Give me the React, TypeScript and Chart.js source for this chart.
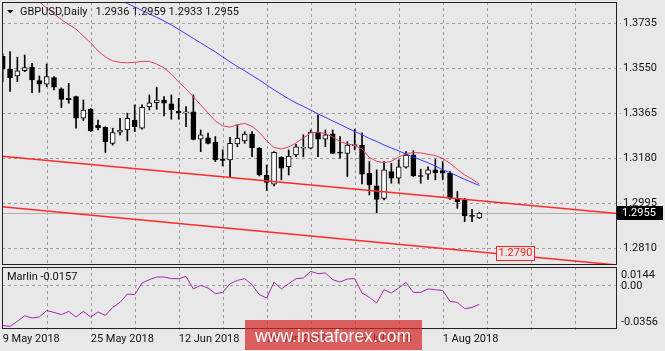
import React, { useEffect, useRef } from "react";
import { Chart, registerables } from "chart.js";

Chart.register(...registerables);

const BG = "#e8e8e8";
const GRID = "#9c9c9c";
const FONT = "Roboto";

// ---- data (daily GBPUSD, 9 May 2018 .. 8 Aug 2018) ----
const opens = [
  1.3600, 1.3547, 1.3519, 1.3541, 1.3555, 1.3500, 1.3485, 1.3512, 1.3466, 1.3428,
  1.3434, 1.3345, 1.3382, 1.3316, 1.3308, 1.3242, 1.3288, 1.3297, 1.3338, 1.3304,
  1.3393, 1.3409, 1.3420, 1.3404, 1.3375, 1.3367, 1.3372, 1.3259, 1.3265, 1.3247,
  1.3176, 1.3174, 1.3240, 1.3252, 1.3280, 1.3222, 1.3112, 1.3074, 1.3185, 1.3146,
  1.3194, 1.3222, 1.3222, 1.3288, 1.3259, 1.3281, 1.3206, 1.3201, 1.3232, 1.3235,
  1.3119, 1.3067, 1.3016, 1.3126, 1.3099, 1.3144, 1.3194, 1.3110, 1.3115, 1.3133,
  1.3130, 1.3119, 1.3016, 1.3009, 1.2946, 1.2936,
];
const highs = [
  1.3610, 1.3619, 1.3596, 1.3605, 1.3571, 1.3519, 1.3568, 1.3516, 1.3470, 1.3489,
  1.3436, 1.3420, 1.3385, 1.3338, 1.3310, 1.3304, 1.3345, 1.3366, 1.3400, 1.3400,
  1.3441, 1.3473, 1.3434, 1.3441, 1.3427, 1.3393, 1.3441, 1.3297, 1.3284, 1.3270,
  1.3215, 1.3267, 1.3318, 1.3290, 1.3290, 1.3225, 1.3153, 1.3208, 1.3187, 1.3215,
  1.3238, 1.3277, 1.3297, 1.3359, 1.3297, 1.3297, 1.3270, 1.3249, 1.3300, 1.3285,
  1.3167, 1.3133, 1.3167, 1.3160, 1.3174, 1.3208, 1.3212, 1.3136, 1.3146, 1.3177,
  1.3167, 1.3126, 1.3044, 1.3016, 1.2971, 1.2959,
];
const lows = [
  1.3495, 1.3455, 1.3496, 1.3537, 1.3450, 1.3452, 1.3475, 1.3462, 1.3389, 1.3407,
  1.3304, 1.3335, 1.3290, 1.3297, 1.3204, 1.3235, 1.3277, 1.3252, 1.3290, 1.3300,
  1.3379, 1.3382, 1.3355, 1.3341, 1.3341, 1.3311, 1.3256, 1.3208, 1.3240, 1.3167,
  1.3149, 1.3103, 1.3228, 1.3242, 1.3187, 1.3108, 1.3048, 1.3067, 1.3092, 1.3112,
  1.3187, 1.3187, 1.3219, 1.3187, 1.3228, 1.3199, 1.3181, 1.3105, 1.3215, 1.3075,
  1.3030, 1.2957, 1.3009, 1.3078, 1.3078, 1.3140, 1.3105, 1.3078, 1.3094, 1.3092,
  1.3092, 1.3012, 1.2975, 1.2920, 1.2920, 1.2933,
];
const closes = [
  1.3547, 1.3512, 1.3540, 1.3553, 1.3503, 1.3485, 1.3516, 1.3473, 1.3423, 1.3422,
  1.3345, 1.3379, 1.3294, 1.3305, 1.3249, 1.3286, 1.3296, 1.3345, 1.3311, 1.3390,
  1.3409, 1.3420, 1.3407, 1.3379, 1.3368, 1.3372, 1.3258, 1.3277, 1.3242, 1.3174,
  1.3172, 1.3242, 1.3263, 1.3280, 1.3224, 1.3112, 1.3081, 1.3205, 1.3140, 1.3190,
  1.3228, 1.3226, 1.3288, 1.3259, 1.3277, 1.3201, 1.3202, 1.3235, 1.3237, 1.3115,
  1.3071, 1.3012, 1.3133, 1.3099, 1.3146, 1.3194, 1.3108, 1.3106, 1.3133, 1.3122,
  1.3119, 1.3016, 1.3002, 1.2944, 1.2942, 1.2955,
];
const redMA = [
  1.3926, 1.3905, 1.3884, 1.3864, 1.3843, 1.3823, 1.3799, 1.3774, 1.3751, 1.3730,
  1.3712, 1.3683, 1.3655, 1.3622, 1.3597, 1.3581, 1.3575, 1.3573, 1.3575, 1.3579,
  1.3579, 1.3568, 1.3552, 1.3527, 1.3494, 1.3466, 1.3433, 1.3400, 1.3367, 1.3334,
  1.3314, 1.3309, 1.3318, 1.3324, 1.3312, 1.3287, 1.3252, 1.3225, 1.3219, 1.3227,
  1.3244, 1.3264, 1.3285, 1.3288, 1.3283, 1.3268, 1.3249, 1.3240, 1.3233, 1.3219,
  1.3184, 1.3168, 1.3163, 1.3168, 1.3186, 1.3200, 1.3204, 1.3203, 1.3197, 1.3192,
  1.3180, 1.3160, 1.3135, 1.3112, 1.3095, 1.3075,
];
const blueMA = [
  null, null, null, null, null, null, null, null, null, null,
  null, null, null, null, 1.3862, 1.3848, 1.3831, 1.3817, 1.3803, 1.3788,
  1.3774, 1.3760, 1.3745, 1.3729, 1.3710, 1.3692, 1.3673, 1.3655, 1.3636, 1.3618,
  1.3597, 1.3577, 1.3558, 1.3540, 1.3521, 1.3503, 1.3482, 1.3462, 1.3443, 1.3425,
  1.3408, 1.3394, 1.3379, 1.3363, 1.3349, 1.3334, 1.3320, 1.3305, 1.3291, 1.3277,
  1.3262, 1.3250, 1.3235, 1.3223, 1.3211, 1.3198, 1.3186, 1.3174, 1.3162, 1.3149,
  1.3133, 1.3122, 1.3108, 1.3094, 1.3081, 1.3069,
];
const marlin = [
  -0.0327, -0.0335, -0.0294, -0.0249, -0.0267, -0.0259, -0.0208, -0.0222, -0.0240, -0.0214,
  -0.0259, -0.0214, -0.0259, -0.0219, -0.0246, -0.0182, -0.0141, -0.0074, -0.0079, 0.0015,
  0.0042, 0.0063, 0.0063, 0.0050, 0.0050, 0.0068, -0.0033, -0.0004, -0.0025, -0.0071,
  -0.0061, 0.0009, 0.0036, 0.0050, 0.0001, -0.0079, -0.0106, 0.0023, -0.0033, 0.0009,
  0.0050, 0.0055, 0.0109, 0.0090, 0.0096, 0.0042, 0.0023, 0.0047, 0.0050, -0.0066,
  -0.0101, -0.0146, -0.0039, -0.0066, -0.0025, 0.0020, -0.0061, -0.0061, -0.0033, -0.0039,
  -0.0045, -0.0133, -0.0141, -0.0192, -0.0182, -0.0157,
];
const dateLabels = ["9 May 2018", "25 May 2018", "12 Jun 2018", "28 Jun 2018", "16 Jul 2018", "1 Aug 2018"];
const priceTicks = [1.281, 1.2995, 1.318, 1.3365, 1.355, 1.3735];
const oscTicks = [0.0144, 0, -0.0356];
const oscTickLabels = ["0.0144", "0.00", "-0.0356"];
const trendUpperY = [1.31895, 1.29535];
const trendLowerY = [1.2981, 1.2742];
const levelValue = 1.279;
const levelAnchorIndex = 67.3;
const symbolTitle = "GBPUSD,Daily";
const ohlcTitle = "1.2936 1.2959 1.2933 1.2955";
const indicatorTitle = "Marlin -0.0157";
const watermark = "www.instaforex.com";

const X_MIN = -0.095;
const X_MAX = 83.77;
const Y_MIN = 1.2742;
const Y_MAX = 1.3823;
const OSC_MIN = -0.0356;
const OSC_MAX = 0.0144;
const GRID_STEP = 6;
const LABEL_STEP = 12;

const idx = opens.map((_, i) => i);
const xGridTicks: number[] = [];
for (let v = 0; v <= X_MAX; v += GRID_STEP) xGridTicks.push(v);
const last = closes.length - 1;

function drawFrame(chart: any) {
  const { ctx, chartArea: a } = chart;
  ctx.save();
  ctx.strokeStyle = "#222";
  ctx.lineWidth = 1;
  ctx.setLineDash([]);
  ctx.strokeRect(Math.round(a.left) + 0.5, Math.round(a.top) + 0.5, Math.round(a.right - a.left) - 1, Math.round(a.bottom - a.top) - 1);
  ctx.restore();
}

// dashed grid drawn from the chart's own scale ticks
function drawGrid(chart: any, tickExtra: number, xTickExtra: number) {
  const { ctx, chartArea: a, scales } = chart;
  ctx.save();
  ctx.strokeStyle = GRID;
  ctx.lineWidth = 1;
  ctx.setLineDash([3, 3]);
  ctx.beginPath();
  for (const t of scales.x.ticks) {
    const px = Math.round(scales.x.getPixelForValue(t.value)) + 0.5;
    if (px < a.left + 2) continue;
    ctx.moveTo(px, a.top);
    ctx.lineTo(px, a.bottom + xTickExtra);
  }
  for (const t of scales.y.ticks) {
    const py = Math.round(scales.y.getPixelForValue(t.value)) + 0.5;
    ctx.moveTo(a.left, py);
    ctx.lineTo(a.right + tickExtra, py);
  }
  ctx.stroke();
  ctx.restore();
}

const mainPlugin = {
  id: "mainDecor",
  beforeDatasetsDraw(chart: any) {
    const { ctx, chartArea: a, scales } = chart;
    drawGrid(chart, 4, 0);
    const py = Math.round(scales.y.getPixelForValue(closes[last])) + 0.5;
    ctx.save();
    ctx.strokeStyle = "#b0b0b0";
    ctx.lineWidth = 1;
    ctx.beginPath();
    ctx.moveTo(a.left, py);
    ctx.lineTo(a.right, py);
    ctx.stroke();
    ctx.restore();
  },
  afterDraw(chart: any) {
    const { ctx, chartArea: a, scales } = chart;
    drawFrame(chart);
    ctx.save();
    ctx.fillStyle = "#111";
    ctx.beginPath();
    ctx.moveTo(7, 10);
    ctx.lineTo(13.5, 10);
    ctx.lineTo(10.25, 13.5);
    ctx.closePath();
    ctx.fill();
    ctx.font = `11px ${FONT}`;
    ctx.textBaseline = "middle";
    ctx.textAlign = "left";
    ctx.fillText(symbolTitle, 20, 12.5);
    const w = ctx.measureText(symbolTitle).width;
    ctx.fillText(ohlcTitle, 20 + w + 8, 12.5);
    const lx = Math.round(scales.x.getPixelForValue(levelAnchorIndex));
    const ly = Math.round(scales.y.getPixelForValue(levelValue));
    const tw = Math.round(ctx.measureText("1.2790").width);
    ctx.fillStyle = BG;
    ctx.fillRect(lx, ly - 7, tw + 4, 14);
    ctx.strokeStyle = "#ff2020";
    ctx.lineWidth = 1;
    ctx.strokeRect(lx + 0.5, ly - 7 + 0.5, tw + 4, 14);
    ctx.fillStyle = "#ff2020";
    ctx.fillText(levelValue.toFixed(4), lx + 2.5, ly + 0.5);
    const py = Math.round(scales.y.getPixelForValue(closes[last]));
    ctx.fillStyle = "#000";
    ctx.fillRect(Math.round(a.right), py - 7, 46, 14);
    ctx.fillStyle = "#fff";
    ctx.fillText(closes[last].toFixed(4), Math.round(a.right) + 5, py + 0.5);
    ctx.restore();
  },
};

const subPlugin = {
  id: "subDecor",
  beforeDatasetsDraw(chart: any) {
    drawGrid(chart, 4, 3);
  },
  afterDraw(chart: any) {
    const { ctx, chartArea: a, scales } = chart;
    drawFrame(chart);
    ctx.save();
    ctx.font = `11px ${FONT}`;
    ctx.textBaseline = "middle";
    ctx.textAlign = "left";
    ctx.fillStyle = "#111";
    ctx.fillText(indicatorTitle, 7, a.top + 10);
    const lx = Math.round(a.right) + 4;
    ctx.fillText(oscTickLabels[0], lx, a.top + 8);
    ctx.fillText(oscTickLabels[1], lx, scales.y.getPixelForValue(oscTicks[1]) + 1);
    ctx.fillText(oscTickLabels[2], lx, a.bottom - 7);
    ctx.fillStyle = "rgba(214,40,40,0.72)";
    ctx.fillRect(245, 54, 177, 30);
    ctx.fillStyle = "#ffffff";
    ctx.font = `18px "Liberation Sans"`;
    ctx.textBaseline = "alphabetic";
    ctx.fillText(watermark, 255, 75.5, 156);
    ctx.restore();
  },
};

const hiddenGrid = (tickLength: number) => ({
  color: "rgba(0,0,0,0)",
  lineWidth: 1,
  offset: false,
  tickLength,
  drawTicks: tickLength > 0,
  drawOnChartArea: false,
});

function noPad(s: any) {
  s.paddingTop = 0;
  s.paddingBottom = 0;
  s.paddingLeft = 0;
  s.paddingRight = 0;
}

export default function App() {
  const refA = useRef<HTMLCanvasElement>(null);
  const refB = useRef<HTMLCanvasElement>(null);

  useEffect(() => {
    const chartA = new Chart(refA.current as HTMLCanvasElement, {
      type: "line",
      data: {
        datasets: [
          {
            type: "bar",
            data: idx.map((i) => ({ x: i, y: [lows[i], highs[i]] })),
            backgroundColor: "#000",
            barThickness: 1,
            grouped: false,
            order: 6,
          } as any,
          {
            type: "bar",
            data: idx.map((i) => ({ x: i, y: [opens[i], closes[i]] })),
            backgroundColor: idx.map((i) => (closes[i] >= opens[i] ? "#ffffff" : "#000000")),
            borderColor: "#000",
            borderWidth: 1,
            borderSkipped: false,
            barThickness: 5,
            grouped: false,
            order: 5,
          } as any,
          {
            type: "line",
            data: [{ x: X_MIN, y: trendUpperY[0] }, { x: X_MAX, y: trendUpperY[1] }],
            borderColor: "#ff2a2a",
            borderWidth: 1.5,
            pointRadius: 0,
            order: 4,
          },
          {
            type: "line",
            data: [{ x: X_MIN, y: trendLowerY[0] }, { x: X_MAX, y: trendLowerY[1] }],
            borderColor: "#ff2a2a",
            borderWidth: 1.5,
            pointRadius: 0,
            order: 3,
          },
          {
            type: "line",
            data: idx.map((i) => ({ x: i, y: redMA[i] })),
            borderColor: "rgb(226,62,92)",
            borderWidth: 1,
            pointRadius: 0,
            order: 2,
          },
          {
            type: "line",
            data: idx.filter((i) => blueMA[i] !== null).map((i) => ({ x: i, y: blueMA[i] })),
            borderColor: "rgb(55,55,255)",
            borderWidth: 1,
            pointRadius: 0,
            order: 1,
          },
        ],
      },
      options: {
        responsive: false,
        animation: false,
        devicePixelRatio: 1,
        events: [],
        layout: { padding: { left: 2, top: 2, right: 0, bottom: 1 } },
        plugins: { legend: { display: false }, tooltip: { enabled: false } },
        scales: {
          x: {
            type: "linear",
            min: X_MIN,
            max: X_MAX,
            offset: false,
            afterBuildTicks: (s: any) => {
              s.ticks = xGridTicks.map((v) => ({ value: v }));
            },
            afterFit: (s: any) => {
              s.height = 0;
              noPad(s);
            },
            ticks: { display: false },
            grid: hiddenGrid(0),
            border: { display: false },
          },
          y: {
            type: "linear",
            position: "right",
            min: Y_MIN,
            max: Y_MAX,
            afterBuildTicks: (s: any) => {
              s.ticks = priceTicks.map((v) => ({ value: v }));
            },
            afterFit: (s: any) => {
              s.width = 48;
              noPad(s);
            },
            ticks: {
              callback: (v: any) => Number(v).toFixed(4),
              font: { family: FONT, size: 11 },
              color: "#111",
              padding: 2,
            },
            grid: hiddenGrid(4),
            border: { display: false },
          },
        },
      } as any,
      plugins: [mainPlugin],
    });

    const chartB = new Chart(refB.current as HTMLCanvasElement, {
      type: "line",
      data: {
        datasets: [
          {
            data: idx.map((i) => ({ x: i, y: marlin[i] })),
            borderColor: "rgb(165,40,175)",
            borderWidth: 1,
            pointRadius: 0,
          },
        ],
      },
      options: {
        responsive: false,
        animation: false,
        devicePixelRatio: 1,
        events: [],
        layout: { padding: { left: 2, top: 1, right: 0, bottom: 0 } },
        plugins: { legend: { display: false }, tooltip: { enabled: false } },
        scales: {
          x: {
            type: "linear",
            min: X_MIN,
            max: X_MAX,
            offset: false,
            afterBuildTicks: (s: any) => {
              s.ticks = xGridTicks.map((v) => ({ value: v }));
            },
            afterFit: (s: any) => {
              s.height = 22;
              noPad(s);
            },
            ticks: {
              autoSkip: false,
              maxRotation: 0,
              minRotation: 0,
              align: "start",
              padding: 2,
              font: { family: FONT, size: 11 },
              color: "#111",
              callback: (v: any) => {
                const n = Number(v);
                const k = n / LABEL_STEP;
                return n % LABEL_STEP === 0 && k < dateLabels.length ? dateLabels[k] : "";
              },
            },
            grid: hiddenGrid(2),
            border: { display: false },
          },
          y: {
            type: "linear",
            position: "right",
            min: OSC_MIN,
            max: OSC_MAX,
            afterBuildTicks: (s: any) => {
              s.ticks = [{ value: oscTicks[1] }];
            },
            afterFit: (s: any) => {
              s.width = 48;
              noPad(s);
            },
            ticks: { display: false },
            grid: hiddenGrid(4),
            border: { display: false },
          },
        },
      } as any,
      plugins: [subPlugin],
    });

    return () => {
      chartA.destroy();
      chartB.destroy();
    };
  }, []);

  return (
    <div style={{ position: "fixed", left: 0, top: 0, width: 665, height: 351, background: BG, overflow: "hidden" }}>
      <canvas ref={refA} width={665} height={266} style={{ position: "absolute", left: 0, top: 0, width: 665, height: 266 }} />
      <canvas ref={refB} width={665} height={85} style={{ position: "absolute", left: 0, top: 266, width: 665, height: 85 }} />
    </div>
  );
}
